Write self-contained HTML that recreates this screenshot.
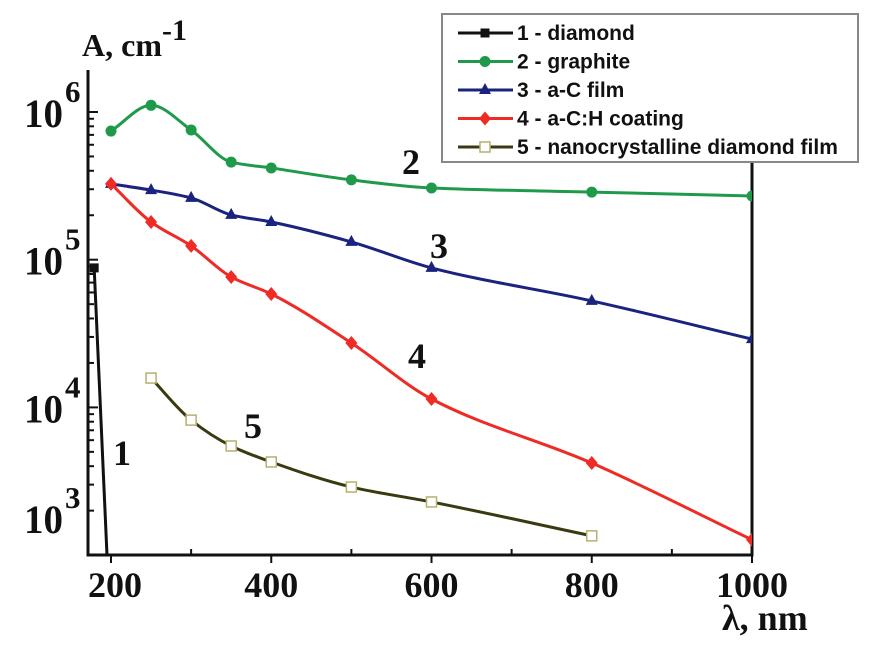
<!DOCTYPE html>
<html><head><meta charset="utf-8"><style>
body{margin:0;background:#fff;}
svg{display:block;}
.tk{font-family:"Liberation Serif",serif;font-weight:bold;fill:#111;}
.lg{font-family:"Liberation Sans",sans-serif;font-size:21px;font-weight:bold;fill:#111;}
</style></head><body>
<svg id="chart" width="885" height="657" viewBox="0 0 885 657"></svg>
<script>
const xTicks=[200,400,600,800,1000];
const yDecades=[3,4,5,6];
const diamondX=[179,195];
const diamondY=[88000,1000];
const graphiteX=[200,250,300,350,400,500,600,800,1000];
const graphiteY=[743000,1110000,755000,458000,418000,347000,306000,287000,270000];
const acX=[200,250,300,350,400,500,600,800,1000];
const acY=[326000,296000,262000,201000,180000,132000,88000,52600,29000];
const achX=[200,250,300,350,400,500,600,800,1000];
const achY=[326000,180000,124000,76400,58600,27300,11400,4200,1270];
const ncdX=[250,300,350,400,500,600,800];
const ncdY=[15800,8200,5480,4270,2890,2290,1350];
const seriesNames=["1 - diamond","2 - graphite","3 - a-C film","4 - a-C:H coating","5 - nanocrystalline diamond film"];

const NS="http://www.w3.org/2000/svg";
const svg=document.getElementById('chart');
const X0=88,X1=752,Y0=70,Y1=555;
function xs(v){return 111+(v-200)*(752-111)/800;}
function ys(v){return 112+(6-Math.log10(v))*147.7;}
function mk(tag,attrs,parent){const e=document.createElementNS(NS,tag);for(const k in attrs)e.setAttribute(k,attrs[k]);(parent||svg).appendChild(e);return e;}

const defs=mk('defs',{});
const cp=mk('clipPath',{id:'pc'},defs);
mk('rect',{x:X0,y:Y0,width:X1-X0,height:Y1-Y0},cp);

const frame=mk('path',{d:`M${X0} ${Y0}V${Y1}H${X1}V${Y0}`,fill:'none',stroke:'#111','stroke-width':3});



yDecades.forEach(d=>{
  for(let m=1;m<=9;m++){
    const v=m*Math.pow(10,d); if(d===6&&m>1)continue;
    const y=ys(v); if(y<Y0||y>Y1)continue;
    const t=mk('line',{x1:X0,x2:X0+(m===1?10:6),y1:y,y2:y,stroke:'#111','stroke-width':2});
    
    
  }
  const y=ys(Math.pow(10,d));
  const base=d===3?y-22:y+15;
  const tx=mk('text',{x:24,y:base,class:'tk','font-size':40,textLength:39,lengthAdjust:'spacingAndGlyphs'});
  
  
  tx.textContent='10';
  const sp=mk('text',{x:65,y:base-25,class:'tk','font-size':31});
  
  
  sp.textContent=String(d);
});
for(let v=200;v<=1000;v+=100){
  const x=xs(v);const maj=v%200===0;
  const t=mk('line',{x1:x,x2:x,y1:Y1-(maj?0:6),y2:Y1+(maj?8:0),stroke:'#111','stroke-width':2});
  
  
  if(maj){const tx=mk('text',{x:x+(v===200?4:0),y:597,class:'tk','font-size':36,'text-anchor':'middle'});
    
    
    tx.textContent=String(v);}
}
const xt=mk('text',{x:722,y:630,class:'tk','font-size':36});


xt.textContent='λ, nm';
const yt=mk('text',{x:82,y:56,class:'tk','font-size':32});


yt.textContent='A, cm';
const ys1=mk('tspan',{dy:-16,'font-size':30},yt);ys1.textContent='-1';

function monotone(p){
  const n=p.length;
  if(n<3)return 'M'+p.map(q=>q.join(' ')).join('L');
  const dx=[],sl=[];
  for(let i=0;i<n-1;i++){dx.push(p[i+1][0]-p[i][0]);sl.push((p[i+1][1]-p[i][1])/dx[i]);}
  const m=[sl[0]];
  for(let i=1;i<n-1;i++){
    if(sl[i-1]*sl[i]<=0){m.push(0);continue;}
    const w1=2*dx[i]+dx[i-1],w2=dx[i]+2*dx[i-1];
    m.push((w1+w2)/(w1/sl[i-1]+w2/sl[i]));
  }
  m.push(sl[n-2]);
  let d=`M${p[0][0]} ${p[0][1]}`;
  for(let i=0;i<n-1;i++){
    const h=dx[i]/3;
    d+=`C${p[i][0]+h} ${p[i][1]+m[i]*h} ${p[i+1][0]-h} ${p[i+1][1]-m[i+1]*h} ${p[i+1][0]} ${p[i+1][1]}`;
  }
  return d;
}
function marker(type,x,y,color,g){
  let e;
  if(type==='circle')e=mk('circle',{cx:x,cy:y,r:5.5,fill:color},g);
  else if(type==='square')e=mk('rect',{x:x-4.5,y:y-4.5,width:9,height:9,fill:color},g);
  else if(type==='tri')e=mk('path',{d:`M${x} ${y-7}L${x+6} ${y+4}L${x-6} ${y+4}Z`,fill:color},g);
  else if(type==='dia')e=mk('path',{d:`M${x} ${y-7}L${x+6} ${y}L${x} ${y+7}L${x-6} ${y}Z`,fill:color},g);
  else e=mk('rect',{x:x-5,y:y-5,width:10,height:10,fill:'#fff',stroke:'#b8b070','stroke-width':1.5},g);
  return e;
}
const series=[
  {name:'diamond',xv:diamondX,yv:diamondY,c:'#111',m:'square',sm:false},
  {name:'graphite',xv:graphiteX,yv:graphiteY,c:'#1f9a4a',m:'circle',sm:true},
  {name:'ac-film',xv:acX,yv:acY,c:'#1a237e',m:'tri',sm:true},
  {name:'ach-coating',xv:achX,yv:achY,c:'#ee2b24',m:'dia',sm:true},
  {name:'ncd-film',xv:ncdX,yv:ncdY,c:'#3a3a10',m:'open',sm:true}
];
series.forEach(s=>{
  const g=mk('g',{'clip-path':'url(#pc)'});
  
  
  const pts=s.xv.map((v,i)=>[xs(v),ys(s.yv[i])]);
  const p=mk('path',{d:s.sm?monotone(pts):'M'+pts.map(q=>q.join(' ')).join('L'),fill:'none',stroke:s.c,'stroke-width':3},g);
  
  
  pts.forEach((q,i)=>{
    if(s.name==='diamond'&&i>0)return;
    const m=marker(s.m,q[0],q[1],s.c,g);
    
    
  });
});
[['1',113,465],['2',402,174],['3',430,258],['4',408,368],['5',244,438]].forEach(l=>{
  const t=mk('text',{x:l[1],y:l[2],class:'tk','font-size':36});
  
  
  t.textContent=l[0];
});
const lg=mk('g',{});


mk('rect',{x:442,y:14,width:416,height:148,fill:'#fff',stroke:'#888','stroke-width':2},lg);
const lm=['square','circle','tri','dia','open'];
seriesNames.forEach((n,i)=>{
  const y=33+i*28.5;
  const e=mk('g',{},lg);
  
  
  mk('line',{x1:458,x2:513,y1:y,y2:y,stroke:series[i].c,'stroke-width':3},e);
  marker(lm[i],485,y,series[i].c,e);
  const t=mk('text',{x:517,y:y+7,class:'lg'},e);t.textContent=n;
});
</script>
</body></html>
